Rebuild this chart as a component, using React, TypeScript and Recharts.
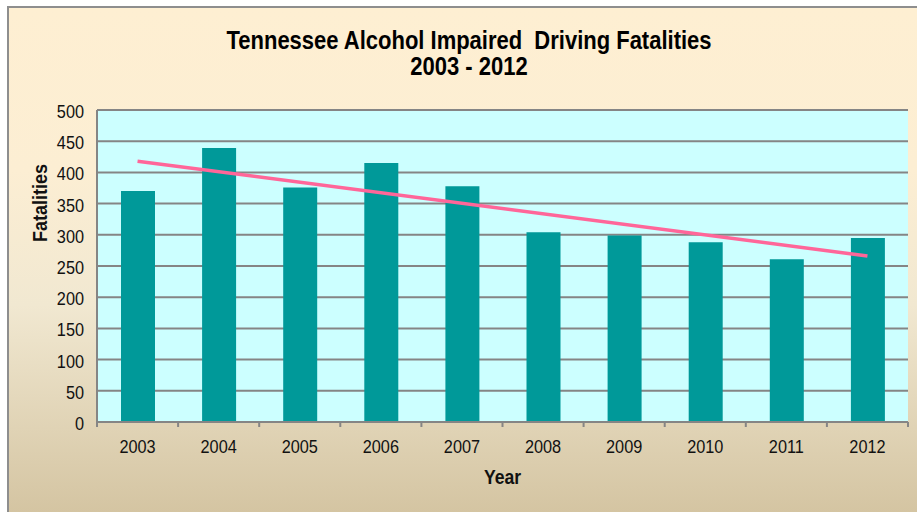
import React from 'react';
import { BarChart, Bar, XAxis, YAxis, CartesianGrid, ReferenceLine, Label } from 'recharts';

const years = ['2003', '2004', '2005', '2006', '2007', '2008', '2009', '2010', '2011', '2012'];
const fatalities = [370, 439, 376, 415, 378, 304, 299, 288, 261, 295];
const yTicks = [0, 50, 100, 150, 200, 250, 300, 350, 400, 450, 500];
const trendYears = ['2003', '2012'];
const trendValues = [418, 266];
const titleLines = ['Tennessee Alcohol Impaired  Driving Fatalities', '2003 - 2012'];

const data = years.map((y, i) => ({ year: y, value: fatalities[i] }));

const FONT = "'Liberation Sans', Arial, sans-serif";
const SX = 0.88;
const GRAY = '#858585';

const XTick = (props: any) => {
  const { x, y, payload, index, visibleTicksCount } = props;
  const off = payload && typeof payload.offset === 'number' && payload.offset > 0 ? payload.offset : 40.55;
  const last = index === (visibleTicksCount ?? years.length) - 1;
  return (
    <g>
      <line x1={x - off} x2={x - off} y1={y} y2={y + 5} stroke={GRAY} strokeWidth={2} />
      {last && <line x1={x + off} x2={x + off} y1={y} y2={y + 5} stroke={GRAY} strokeWidth={2} />}
      <text
        transform={`translate(${x},${y + 31}) scale(${SX},1)`}
        textAnchor="middle"
        fontFamily={FONT}
        fontSize={18.5}
        fill="#111"
      >
        {payload.value}
      </text>
    </g>
  );
};

const YTick = (props: any) => {
  const { x, y, payload } = props;
  return (
    <text
      transform={`translate(${x},${y + 8}) scale(${SX},1)`}
      textAnchor="end"
      fontFamily={FONT}
      fontSize={18.5}
      fill="#111"
    >
      {payload.value}
    </text>
  );
};

const XLabel = (props: any) => {
  const vb = props.viewBox || { x: 97, y: 422, width: 811, height: 90 };
  return (
    <text
      transform={`translate(${vb.x + vb.width / 2},${vb.y + 62}) scale(${SX},1)`}
      textAnchor="middle"
      fontFamily={FONT}
      fontWeight="bold"
      fontSize={20}
      fill="#111"
    >
      Year
    </text>
  );
};

const YLabel = (props: any) => {
  const vb = props.viewBox || { x: 0, y: 110, width: 97, height: 312 };
  return (
    <text
      transform={`translate(${vb.x + 47},${vb.y + 93}) rotate(-90) scale(${SX},1)`}
      textAnchor="middle"
      fontFamily={FONT}
      fontWeight="bold"
      fontSize={20.5}
      fill="#111"
    >
      Fatalities
    </text>
  );
};

export default function App() {
  return (
    <div style={{ position: 'absolute', left: 0, top: 0, width: 917, height: 512, overflow: 'hidden', background: '#fff' }}>
      <div
        style={{
          position: 'absolute',
          left: 7,
          top: 6,
          width: 940,
          height: 540,
          borderLeft: '2px solid #8e8e8e',
          borderTop: '2px solid #8e8e8e',
          background: 'linear-gradient(to bottom, #FEEFD2 0%, #FCEED3 30%, #F1E8D1 55%, #D3C3A0 95%)',
        }}
      />
      <svg width={917} height={512} style={{ position: 'absolute', left: 0, top: 0 }}>
        {titleLines.map((t, i) => (
          <text
            key={i}
            transform={`translate(469,${49 + i * 26}) scale(${SX},1)`}
            textAnchor="middle"
            fontFamily={FONT}
            fontWeight="bold"
            fontSize={25}
            fill="#000"
            style={{ whiteSpace: 'pre' }}
          >
            {t}
          </text>
        ))}
      </svg>
      <div style={{ position: 'absolute', left: 0, top: 0 }}>
        <BarChart
          width={917}
          height={512}
          data={data}
          margin={{ top: 110, right: 9, bottom: 0, left: 0 }}
          barSize={34}
        >
          <CartesianGrid vertical={false} fill="#CCFFFF" stroke={GRAY} strokeWidth={2} />
          <XAxis
            dataKey="year"
            height={90}
            interval={0}
            tickLine={false}
            tickSize={0}
            tickMargin={0}
            axisLine={{ stroke: GRAY, strokeWidth: 2 }}
            tick={<XTick />}
          >
            <Label content={<XLabel />} />
          </XAxis>
          <YAxis
            width={97}
            domain={[0, 500]}
            ticks={yTicks}
            interval={0}
            tickLine={false}
            tickSize={0}
            tickMargin={13}
            axisLine={{ stroke: GRAY, strokeWidth: 2 }}
            tick={<YTick />}
          >
            <Label content={<YLabel />} />
          </YAxis>
          <Bar dataKey="value" fill="#009999" isAnimationActive={false} />
          <ReferenceLine
            segment={[
              { x: trendYears[0], y: trendValues[0] },
              { x: trendYears[1], y: trendValues[1] },
            ]}
            stroke="#FF6699"
            strokeWidth={3.5}
            ifOverflow="visible"
          />
        </BarChart>
      </div>
    </div>
  );
}
